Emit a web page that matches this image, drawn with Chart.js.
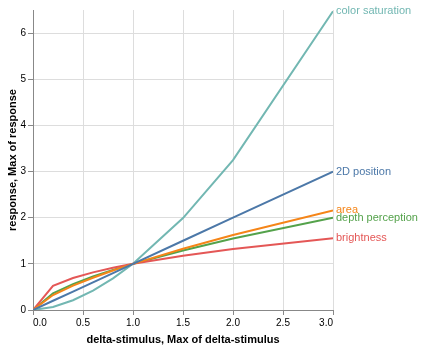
<!DOCTYPE html>
<html>
<head>
<meta charset="utf-8">
<script src="https://cdn.jsdelivr.net/npm/chart.js@4"></script>
<style>
  html, body { margin: 0; padding: 0; background: #fff; }
  #wrap { width: 422px; height: 347px; }
</style>
</head>
<body>
<div id="wrap"><canvas id="stevens" width="422" height="347"></canvas></div>
<script>
/* ------------ DATA ------------ */
const stimulus = [0, 0.2, 0.4, 0.6, 0.8, 1, 1.5, 2, 3];
const position2D = [0, 0.2, 0.4, 0.6, 0.8, 1, 1.5, 2, 3];
const area = [0, 0.324, 0.527, 0.699, 0.855, 1, 1.328, 1.625, 2.158];
const brightness = [0, 0.525, 0.693, 0.815, 0.915, 1, 1.176, 1.32, 1.552];
const colorSaturation = [0, 0.065, 0.211, 0.42, 0.684, 1, 1.992, 3.249, 6.473];
const depthPerception = [0, 0.363, 0.561, 0.725, 0.869, 1, 1.291, 1.548, 1.998];
const xTicks = [0, 0.5, 1, 1.5, 2, 2.5, 3];
const yTicks = [0, 1, 2, 3, 4, 5, 6];

const series = [
  { label: '2D position', values: position2D, color: '#4c78a8' },
  { label: 'area', values: area, color: '#f58518' },
  { label: 'brightness', values: brightness, color: '#e45756' },
  { label: 'color saturation', values: colorSaturation, color: '#72b7b2' },
  { label: 'depth perception', values: depthPerception, color: '#54a24b' }
];

const FONT = '"Liberation Sans", Arial, Helvetica, sans-serif';

/* ------------ END-OF-LINE LABELS ------------ */
const endLabels = {
  id: 'endLabels',
  afterDatasetsDraw(chart) {
    const ctx = chart.ctx;
    ctx.save();
    ctx.font = `11px ${FONT}`;
    ctx.textAlign = 'left';
    ctx.textBaseline = 'middle';
    chart.data.datasets.forEach((ds, i) => {
      const meta = chart.getDatasetMeta(i);
      const last = meta.data[meta.data.length - 1];
      ctx.fillStyle = ds.borderColor;
      ctx.fillText(ds.label, last.x + 3, last.y);
    });
    ctx.restore();
  }
};

const datasets = series.map(s => ({
  label: s.label,
  data: stimulus.map((x, i) => ({ x, y: s.values[i] })),
  borderColor: s.color,
  borderWidth: 2,
  pointRadius: 0,
  tension: 0,
  fill: false
}));

new Chart(document.getElementById('stevens'), {
  type: 'line',
  data: { datasets },
  options: {
    responsive: false,
    animation: false,
    layout: { padding: { top: 10, right: 89, left: 0, bottom: 0 } },
    plugins: { legend: { display: false }, tooltip: { enabled: false } },
    scales: {
      x: {
        type: 'linear',
        min: 0,
        max: 3,
        afterBuildTicks: scale => { scale.ticks = xTicks.map(v => ({ value: v })); },
        afterFit: scale => { scale.height = 37; },
        grid: { color: '#ddd', tickColor: '#888', tickLength: 5 },
        border: { color: '#888' },
        ticks: {
          align: 'inner',
          padding: 2,
          color: '#000',
          font: { family: FONT, size: 10 },
          callback: v => Number(v).toFixed(1)
        },
        title: {
          display: true,
          text: 'delta-stimulus, Max of delta-stimulus',
          color: '#000',
          font: { family: FONT, size: 11, weight: 'bold' },
          padding: { top: 0, bottom: 0 }
        }
      },
      y: {
        type: 'linear',
        min: 0,
        max: 6.5,
        afterBuildTicks: scale => { scale.ticks = yTicks.map(v => ({ value: v })); },
        afterFit: scale => { scale.width = 33; },
        grid: { color: '#ddd', tickColor: '#888', tickLength: 5 },
        border: { color: '#888' },
        ticks: {
          padding: 2,
          color: '#000',
          font: { family: FONT, size: 10 }
        },
        title: {
          display: true,
          text: 'response, Max of response',
          color: '#000',
          font: { family: FONT, size: 11, weight: 'bold' },
          padding: { top: 6, bottom: 0 }
        }
      }
    }
  },
  plugins: [endLabels]
});
</script>
</body>
</html>
